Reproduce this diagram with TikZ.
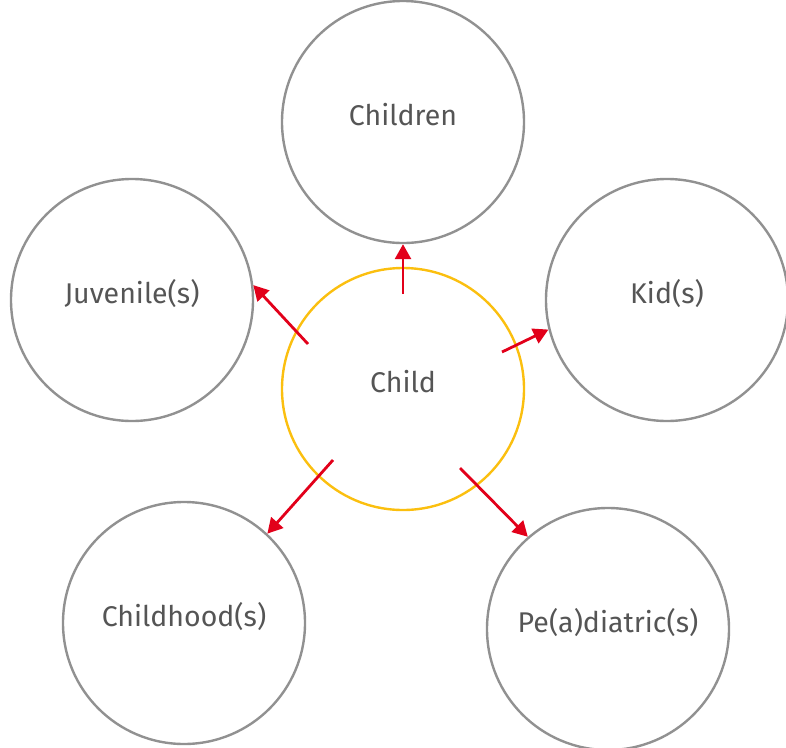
\documentclass[tikz,border=0pt]{standalone}
\usepackage{fontspec}
\setmainfont{Fira Sans}
\usetikzlibrary{arrows.meta}
\definecolor{ringgray}{HTML}{919191}
\definecolor{ringgold}{HTML}{FBBF0F}
\definecolor{arrowred}{HTML}{E2001A}
\definecolor{textgray}{HTML}{555555}
\tikzset{
  word/.style={circle,draw=ringgray,line width=2.4pt,minimum size=242pt,inner sep=0pt,
    text=textgray,text height=0.7em,text depth=0.1em,font=\fontsize{28.5}{32}\selectfont},
  link/.style={draw=arrowred,line width=2.8pt,-{Triangle[length=15pt,width=16pt]}}
}

\begin{document}
\begin{tikzpicture}[x=1pt,y=-1pt]
\useasboundingbox (0,0) rectangle (786,747);
\node[word] (children) at (403,122) {Children};
\node[word] (juvenile) at (132,300) {Juvenile(s)};
\node[word] (kid) at (667,300) {Kid(s)};
\node[word,draw=ringgold] (child) at (403,389) {Child};
\node[word] (childhood) at (184,623) {Childhood(s)};
\node[word] (paediatric) at (608,629) {Pe(a)diatric(s)};
% arrow ends
\coordinate (c1) at (403,294);
\coordinate (c2) at (308,344);
\coordinate (c3) at (502,352);
\coordinate (c4) at (333,460);
\coordinate (c5) at (460,468);
\draw[link] (c1) -- (children.south);
\draw[link] (c2) -- (juvenile.7);
\draw[link] (c3) -- (kid.194);
\draw[link] (c4) -- (childhood.47);
\draw[link] (c5) -- (paediatric.131);
\end{tikzpicture}
\end{document}
